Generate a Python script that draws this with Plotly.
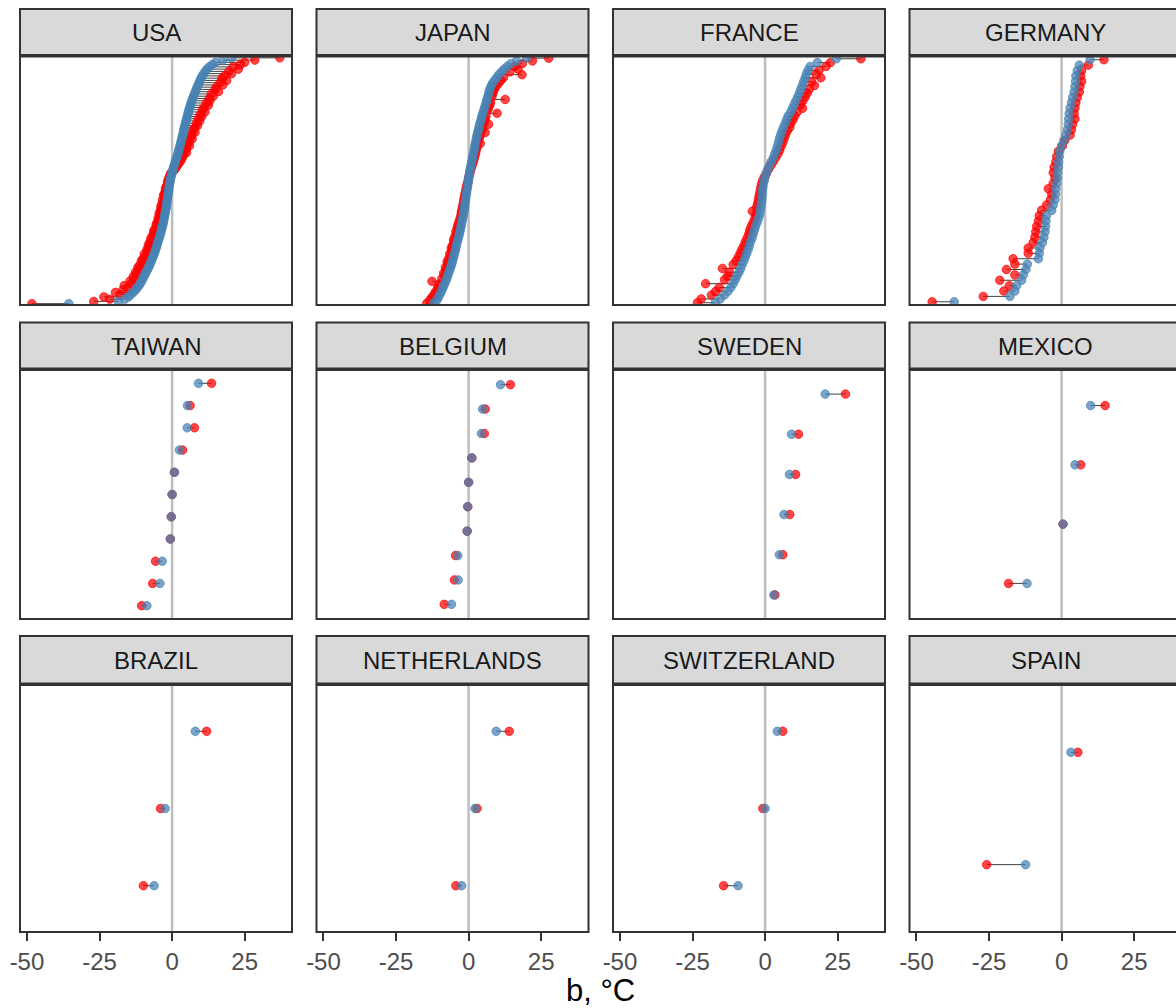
import plotly.graph_objects as go

# ---- data: b (°C) per site, listed top to bottom, two estimates per site ----
countries = ["USA", "JAPAN", "FRANCE", "GERMANY",
             "TAIWAN", "BELGIUM", "SWEDEN", "MEXICO",
             "BRAZIL", "NETHERLANDS", "SWITZERLAND", "SPAIN"]

usa_blue = [
    20.5, 17.5, 15.0, 13.8, 12.8, 12.0, 11.4, 10.9, 10.4, 10.0,
    9.6, 9.3, 9.0, 8.6, 8.3, 8.0, 7.7, 7.4, 7.1, 6.8,
    6.5, 6.3, 6.1, 5.8, 5.6, 5.4, 5.2, 5.0, 4.8, 4.6,
    4.4, 4.2, 4.0, 3.9, 3.7, 3.5, 3.3, 3.1, 2.9, 2.7,
    2.5, 2.3, 2.1, 1.9, 1.6, 1.4, 1.1, 0.9, 0.6, 0.4,
    0.2, 0.0, -0.2, -0.4, -0.6, -0.7, -0.9, -1.0, -1.1, -1.2,
    -1.3, -1.5, -1.6, -1.7, -1.8, -1.9, -2.0, -2.1, -2.3, -2.4,
    -2.6, -2.7, -2.9, -3.0, -3.2, -3.4, -3.6, -3.8, -4.0, -4.2,
    -4.5, -4.7, -5.0, -5.2, -5.4, -5.7, -5.9, -6.2, -6.5, -6.8,
    -7.1, -7.4, -7.8, -8.1, -8.5, -8.9, -9.3, -9.7, -10.1, -10.5,
    -10.9, -11.4, -12.0, -12.6, -13.4, -14.2, -15.0, -16.3, -18.5, -35.6,
]
usa_red = [
    37.1, 28.5, 25.0, 23.5, 21.0, 22.8, 19.5, 20.5, 18.0, 17.2,
    18.8, 16.5, 17.5, 15.2, 14.8, 16.0, 13.5, 14.2, 12.8, 13.0,
    11.8, 12.5, 11.0, 10.5, 11.3, 9.8, 10.2, 9.0, 9.5, 8.4,
    8.8, 7.8, 7.2, 7.9, 6.8, 6.4, 6.9, 5.8, 5.5, 6.0,
    4.9, 4.6, 5.0, 4.0, 3.6, 3.2, 2.8, 2.2, 1.7, 1.2,
    0.6, -0.4, -0.7, -1.0, -1.3, -1.6, -1.5, -2.0, -2.3, -2.1,
    -2.6, -3.0, -2.7, -3.3, -3.0, -3.6, -3.9, -3.5, -4.1, -4.5,
    -4.2, -4.8, -4.6, -5.2, -5.5, -5.3, -6.0, -6.4, -6.1, -6.8,
    -7.3, -7.0, -7.8, -8.2, -7.9, -8.7, -8.5, -9.6, -9.2, -10.0,
    -10.6, -10.2, -11.2, -11.8, -11.5, -12.6, -12.3, -13.4, -13.0, -14.5,
    -14.0, -16.5, -15.5, -17.0, -19.5, -18.0, -23.5, -21.5, -27.0, -48.3,
]

japan_blue = [
    20.0, 16.5, 14.5, 13.3, 12.2, 11.3, 10.4, 9.7, 9.0, 8.3,
    7.8, 7.4, 7.1, 6.9, 6.6, 6.3, 6.1, 5.8, 5.5, 5.2,
    4.9, 4.6, 4.4, 4.1, 3.8, 3.6, 3.4, 3.1, 2.9, 2.7,
    2.5, 2.3, 2.1, 2.0, 1.8, 1.6, 1.4, 1.2, 1.0, 0.8,
    0.6, 0.4, 0.3, 0.1, 0.0, -0.1, -0.3, -0.4, -0.6, -0.7,
    -0.9, -1.0, -1.1, -1.3, -1.4, -1.5, -1.7, -1.8, -2.0, -2.2,
    -2.4, -2.6, -2.8, -3.0, -3.2, -3.5, -3.7, -4.0, -4.2, -4.4,
    -4.6, -4.9, -5.1, -5.4, -5.6, -5.9, -6.2, -6.5, -6.9, -7.2,
    -7.5, -7.9, -8.3, -8.7, -9.1, -9.5, -10.0, -10.5, -11.0, -12.0,
]
japan_red = [
    27.6, 22.0, 18.5, 16.0, 17.0, 14.2, 18.4, 12.0, 11.2, 10.4,
    9.6, 9.0, 8.6, 8.3, 8.0, 12.6, 7.6, 7.3, 6.9, 6.5,
    9.8, 6.0, 5.7, 5.4, 6.9, 4.9, 4.6, 5.7, 4.0, 3.7,
    3.4, 4.0, 3.0, 2.7, 2.5, 2.3, 2.0, 1.8, 1.5, 1.2,
    0.9, 0.6, 0.4, 0.1, -0.1, -0.3, -0.6, -0.8, -1.0, -1.2,
    -1.4, -1.6, -1.7, -1.9, -2.1, -2.3, -2.5, -2.6, -2.9, -3.2,
    -3.5, -3.8, -4.0, -4.4, -4.2, -4.8, -5.2, -5.0, -5.6, -6.0,
    -5.8, -6.5, -6.3, -7.0, -7.4, -7.2, -8.0, -7.8, -8.6, -8.4,
    -9.2, -12.6, -10.0, -10.6, -10.8, -11.5, -12.0, -12.8, -13.5, -14.4,
]

france_blue = [
    24.5, 18.0, 15.5, 14.8, 14.2, 13.8, 13.3, 12.8, 12.3, 11.8,
    11.2, 10.6, 10.0, 9.4, 8.8, 7.9, 7.4, 6.9, 6.3, 5.8,
    5.3, 4.9, 4.6, 4.2, 3.8, 3.3, 2.8, 2.1, 1.5, 0.9,
    0.4, 0.0, -0.3, -0.6, -0.8, -0.9, -1.0, -1.1, -1.3, -1.5,
    -1.7, -1.9, -2.3, -2.8, -3.3, -3.7, -4.1, -4.5, -5.0, -5.4,
    -5.8, -6.3, -6.8, -7.3, -7.9, -8.4, -9.0, -9.7, -10.3, -11.0,
    -11.8, -12.8, -14.0, -15.5, -17.2,
]
france_red = [
    33.0, 22.5, 21.0, 18.6, 17.5, 19.2, 16.0, 17.0, 15.2, 14.5,
    13.8, 13.0, 12.2, 12.9, 11.0, 10.2, 9.6, 8.8, 8.5, 7.6,
    7.0, 6.5, 6.1, 5.5, 5.0, 4.4, 3.6, 2.8, 2.0, 1.2,
    0.5, -0.3, -0.9, -1.3, -1.6, -1.8, -2.1, -2.3, -2.6, -3.0,
    -4.4, -3.2, -3.6, -4.2, -4.8, -5.3, -5.6, -6.2, -6.8, -7.3,
    -8.0, -8.6, -9.2, -10.0, -11.0, -14.7, -12.3, -13.0, -14.0, -20.5,
    -15.8, -17.0, -18.5, -22.0, -23.3,
]

germany_blue = [
    9.8, 6.1, 5.4, 4.9, 4.8, 4.6, 4.3, 3.8, 3.4, 2.9,
    2.6, 2.4, 2.3, 2.0, 1.5, 0.8, 0.0, -0.6, -0.8, -1.0,
    -1.1, -1.4, -1.5, -1.7, -2.0, -2.1, -2.3, -2.9, -3.4, -5.2,
    -5.4, -5.5, -5.7, -6.1, -6.6, -7.5, -7.7, -8.0, -11.8, -12.3,
    -13.2, -13.8, -15.5, -16.1, -17.8, -37.0,
]
germany_red = [
    14.6, 9.2, 6.9, 6.6, 6.9, 6.3, 6.1, 5.4, 4.9, 4.6,
    4.3, 4.6, 3.8, 3.4, 2.9, 1.1, 0.3, -1.1, -1.7, -2.0,
    -2.6, -2.9, -2.3, -2.9, -4.6, -3.4, -3.8, -5.2, -6.9, -7.7,
    -8.0, -8.6, -8.9, -9.2, -9.8, -11.5, -11.5, -16.7, -16.1, -19.0,
    -16.1, -21.3, -18.0, -19.9, -27.0, -44.6,
]

taiwan_blue = [9.1, 5.3, 5.2, 2.5, 0.8, 0.0, -0.3, -0.6, -3.4, -4.2, -8.7]
taiwan_red = [13.6, 6.2, 7.7, 3.6, 0.8, 0.0, -0.3, -0.6, -5.7, -6.7, -10.5]

belgium_blue = [11.0, 4.8, 4.4, 1.1, 0.0, -0.3, -0.5, -3.7, -3.6, -5.9]
belgium_red = [14.4, 5.7, 5.4, 1.1, 0.0, -0.3, -0.5, -4.5, -4.9, -8.4]

sweden_blue = [20.7, 9.1, 8.4, 6.5, 4.9, 3.0]
sweden_red = [27.7, 11.5, 10.5, 8.5, 6.1, 3.4]

mexico_blue = [10.0, 4.6, 0.5, -11.9]
mexico_red = [15.0, 6.6, 0.5, -18.3]

brazil_blue = [8.0, -2.4, -6.2]
brazil_red = [11.9, -4.0, -9.9]

netherlands_blue = [9.5, 2.2, -2.4]
netherlands_red = [14.0, 2.9, -4.4]

switzerland_blue = [4.2, 0.0, -9.3]
switzerland_red = [6.1, -0.8, -14.3]

spain_blue = [3.2, -12.4]
spain_red = [5.6, -25.8]

x_ticks = [-50, -25, 0, 25]
x_tick_text = ["-50", "-25", "0", "25"]
x_title = "b, °C"

series = {
    "USA": (usa_red, usa_blue),
    "JAPAN": (japan_red, japan_blue),
    "FRANCE": (france_red, france_blue),
    "GERMANY": (germany_red, germany_blue),
    "TAIWAN": (taiwan_red, taiwan_blue),
    "BELGIUM": (belgium_red, belgium_blue),
    "SWEDEN": (sweden_red, sweden_blue),
    "MEXICO": (mexico_red, mexico_blue),
    "BRAZIL": (brazil_red, brazil_blue),
    "NETHERLANDS": (netherlands_red, netherlands_blue),
    "SWITZERLAND": (switzerland_red, switzerland_blue),
    "SPAIN": (spain_red, spain_blue),
}

# ---- facet geometry (pixels) ----
W, H = 1176, 1008
FONT = "Liberation Sans, Arial, Helvetica, sans-serif"
col_left = [20, 316.5, 613, 909.5]
panel_w = 272
strip_top = [9, 322.5, 636]
panel_top = [56.5, 370, 685]
panel_bot = [305, 619, 932]
X_MIN, X_MAX = -52.4, 41.3

RED = "rgba(255,0,0,0.72)"
BLUE = "rgba(70,130,180,0.72)"
MSIZE = 8.5

fig = go.Figure()
layout = dict(
    width=W, height=H,
    margin=dict(l=0, r=0, t=0, b=0, pad=0, autoexpand=False),
    paper_bgcolor="white", plot_bgcolor="white",
    showlegend=False,
    font=dict(family=FONT),
)
shapes = []
annotations = []

for k, name in enumerate(countries):
    r, c = divmod(k, 4)
    ax = "" if k == 0 else str(k + 1)
    left = col_left[c]
    right = left + panel_w
    vis_right = min(right, W)
    x_hi = X_MIN + (vis_right - left) / panel_w * (X_MAX - X_MIN)

    red, blue = series[name]
    n = len(blue)
    ys = [n - i for i in range(n)]

    bottom_row = (r == 2)
    layout["xaxis" + ax] = dict(
        domain=[left / W, vis_right / W],
        range=[X_MIN, x_hi],
        anchor="y" + ax,
        automargin=False,
        showgrid=False, zeroline=False, showline=False,
        tickmode="array", tickvals=x_ticks, ticktext=x_tick_text,
        ticks="outside" if bottom_row else "",
        ticklen=8, tickwidth=2, tickcolor="#333333",
        showticklabels=bottom_row,
        tickfont=dict(family=FONT, size=24, color="#4D4D4D"),
    )
    layout["yaxis" + ax] = dict(
        domain=[1 - panel_bot[r] / H, 1 - panel_top[r] / H],
        range=[0.4, n + 0.6],
        anchor="x" + ax,
        automargin=False,
        visible=False,
    )

    # reference line at b = 0
    shapes.append(dict(type="line", xref="x" + ax, yref="y" + ax + " domain",
                       x0=0, x1=0, y0=0, y1=1, layer="below",
                       line=dict(color="#BEBEBE", width=2.5)))

    # segments joining the two estimates of each site
    seg_x, seg_y = [], []
    for rv, bv, yv in zip(red, blue, ys):
        seg_x += [rv, bv, None]
        seg_y += [yv, yv, None]
    fig.add_trace(go.Scatter(x=seg_x, y=seg_y, mode="lines",
                             line=dict(color="rgba(30,30,30,0.85)", width=1),
                             xaxis="x" + ax, yaxis="y" + ax, hoverinfo="skip"))
    fig.add_trace(go.Scatter(x=red, y=ys, mode="markers",
                             marker=dict(size=MSIZE, color=RED,
                                         line=dict(color=RED, width=1)),
                             xaxis="x" + ax, yaxis="y" + ax))
    fig.add_trace(go.Scatter(x=blue, y=ys, mode="markers",
                             marker=dict(size=MSIZE, color=BLUE,
                                         line=dict(color=BLUE, width=1)),
                             xaxis="x" + ax, yaxis="y" + ax))

    # strip header and panel border
    shapes.append(dict(type="rect", xref="paper", yref="paper",
                       x0=left / W, x1=right / W,
                       y0=1 - (panel_top[r] - 1.5) / H, y1=1 - strip_top[r] / H,
                       fillcolor="#D9D9D9", line=dict(color="#333333", width=2),
                       layer="above"))
    shapes.append(dict(type="rect", xref="paper", yref="paper",
                       x0=left / W, x1=right / W,
                       y0=1 - panel_bot[r] / H, y1=1 - panel_top[r] / H,
                       fillcolor="rgba(0,0,0,0)", line=dict(color="#333333", width=2),
                       layer="above"))
    annotations.append(dict(text=name, xref="paper", yref="paper",
                            x=(left + panel_w / 2) / W,
                            y=1 - (strip_top[r] + panel_top[r]) / 2 / H,
                            xanchor="center", yanchor="middle", showarrow=False,
                            font=dict(family=FONT, size=24, color="#1A1A1A")))

annotations.append(dict(text=x_title, xref="paper", yref="paper",
                        x=600 / W, y=1 - 990 / H, xanchor="center", yanchor="middle",
                        showarrow=False, font=dict(family=FONT, size=31, color="black")))

layout["shapes"] = shapes
layout["annotations"] = annotations
fig.update_layout(**layout)

fig.write_html("out.html")
